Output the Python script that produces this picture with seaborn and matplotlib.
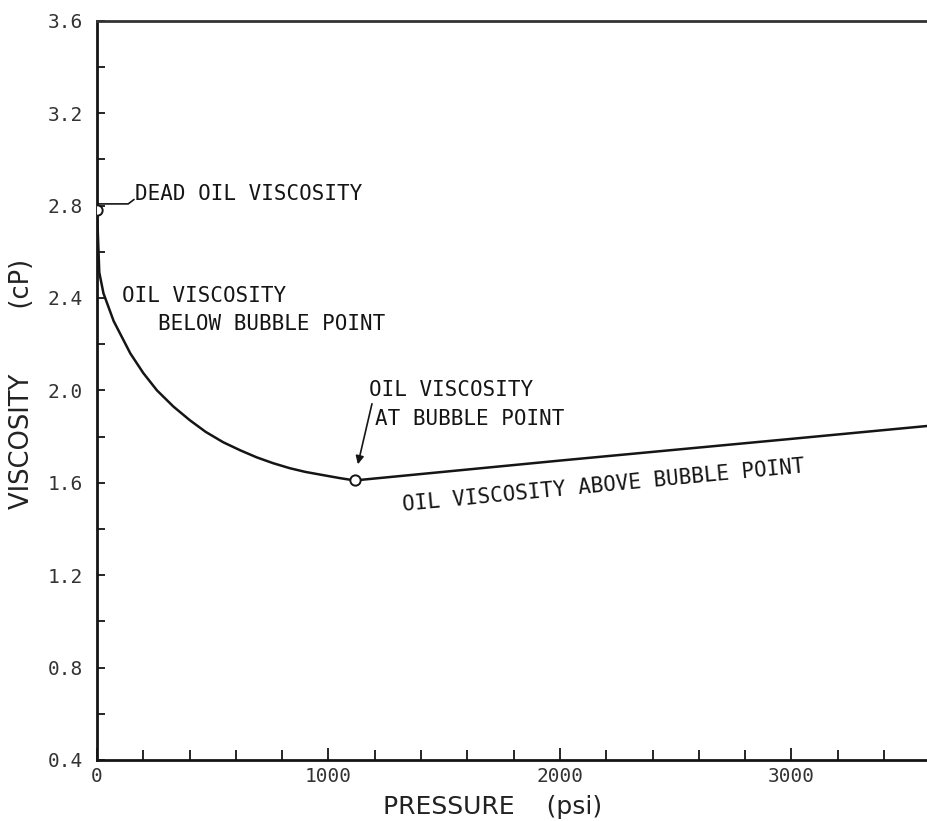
import matplotlib
matplotlib.use("Agg")
import matplotlib.pyplot as plt
import seaborn as sns
import pandas as pd
from matplotlib.ticker import MultipleLocator, FormatStrFormatter

# ---- data ----
pressure_psi = [0, 10, 28, 72, 144, 200, 259, 330, 402, 470, 546, 620, 690,
                760, 833, 900, 977, 1050, 1113, 2000, 3000, 3600]
viscosity_cp = [2.78, 2.51, 2.42, 2.30, 2.16, 2.075, 2.00, 1.93, 1.87, 1.82,
                1.775, 1.74, 1.71, 1.685, 1.663, 1.647, 1.633, 1.62, 1.61,
                1.696, 1.790, 1.847]

marker_psi = [0, 1113]
marker_cp = [2.78, 1.61]

x_major_ticks = [0, 1000, 2000, 3000]
y_major_ticks = [0.4, 0.8, 1.2, 1.6, 2.0, 2.4, 2.8, 3.2, 3.6]

label_dead = "DEAD OIL VISCOSITY"
label_below_1 = "OIL VISCOSITY"
label_below_2 = "BELOW BUBBLE POINT"
label_at_1 = "OIL VISCOSITY"
label_at_2 = "AT BUBBLE POINT"
label_above = "OIL VISCOSITY ABOVE BUBBLE POINT"
x_title = "PRESSURE    (psi)"
y_title = "VISCOSITY        (cP)"

df = pd.DataFrame({"pressure": pressure_psi, "viscosity": viscosity_cp})
dm = pd.DataFrame({"pressure": marker_psi, "viscosity": marker_cp})

sns.set_theme(style="white")
plt.rcParams["font.family"] = ["DejaVu Sans"]

fig = plt.figure(figsize=(9.28, 8.21), dpi=100)
ax = fig.add_axes([0.1045, 0.0743, 0.8955, 0.9005])

ink = "#151515"
sns.lineplot(data=df, x="pressure", y="viscosity", sort=False, estimator=None,
             color=ink, lw=1.8, ax=ax)
sns.scatterplot(data=dm, x="pressure", y="viscosity", s=55, facecolor="white",
                edgecolor=ink, linewidth=1.4, zorder=5, ax=ax)

ax.set_xlim(0, 3590)
ax.set_ylim(0.4, 3.6)
ax.set_xticks(x_major_ticks)
ax.set_yticks(y_major_ticks)
ax.xaxis.set_minor_locator(MultipleLocator(200))
ax.yaxis.set_minor_locator(MultipleLocator(0.2))
ax.yaxis.set_major_formatter(FormatStrFormatter("%.1f"))

mono = "DejaVu Sans Mono"
ax.tick_params(axis="both", which="both", direction="in", color=ink, width=1.3,
               bottom=True, left=True, top=False, right=False)
ax.tick_params(axis="y", which="major", length=6, pad=10)
ax.tick_params(axis="y", which="minor", length=6)
ax.tick_params(axis="x", which="major", length=9, pad=5)
ax.tick_params(axis="x", which="minor", length=7)
for lab in ax.get_xticklabels() + ax.get_yticklabels():
    lab.set_fontfamily(mono)
    lab.set_fontsize(14)
    lab.set_color("#333333")

for side in ["left", "bottom", "top"]:
    ax.spines[side].set_visible(True)
    ax.spines[side].set_linewidth(2.0)
    ax.spines[side].set_color(ink)
ax.spines["top"].set_color("#333333")
ax.spines["right"].set_visible(False)

ax.set_xlabel(x_title, fontsize=18, color="#222222")
ax.set_ylabel(y_title, fontsize=18.5, color="#222222")
ax.xaxis.set_label_coords(0.476, -0.047)
ax.yaxis.set_label_coords(-0.074, 0.508)

tkw = dict(fontfamily=mono, fontsize=15, color=ink, va="center", ha="left")
ax.text(164, 2.851, label_dead, **tkw)
ax.text(108, 2.407, label_below_1, **tkw)
ax.text(264, 2.285, label_below_2, **tkw)
ax.text(1175, 2.0, label_at_1, **tkw)
ax.text(1201, 1.878, label_at_2, **tkw)
ax.text(2190, 1.586, label_above, fontfamily=mono, fontsize=15, color=ink,
        ha="center", va="center", rotation=5.5, rotation_mode="anchor")

# leader for dead oil viscosity
leader_x = [0, 135, 160]
leader_y = [2.807, 2.807, 2.826]
ax.plot(leader_x, leader_y, color=ink, lw=1.2)

# arrow to bubble point
ax.annotate("", xy=(1127, 1.68), xytext=(1188, 1.942),
            arrowprops=dict(arrowstyle="-|>", color=ink, lw=1.2,
                            mutation_scale=12, shrinkA=0, shrinkB=0))

fig.savefig("out.png", dpi=100)
